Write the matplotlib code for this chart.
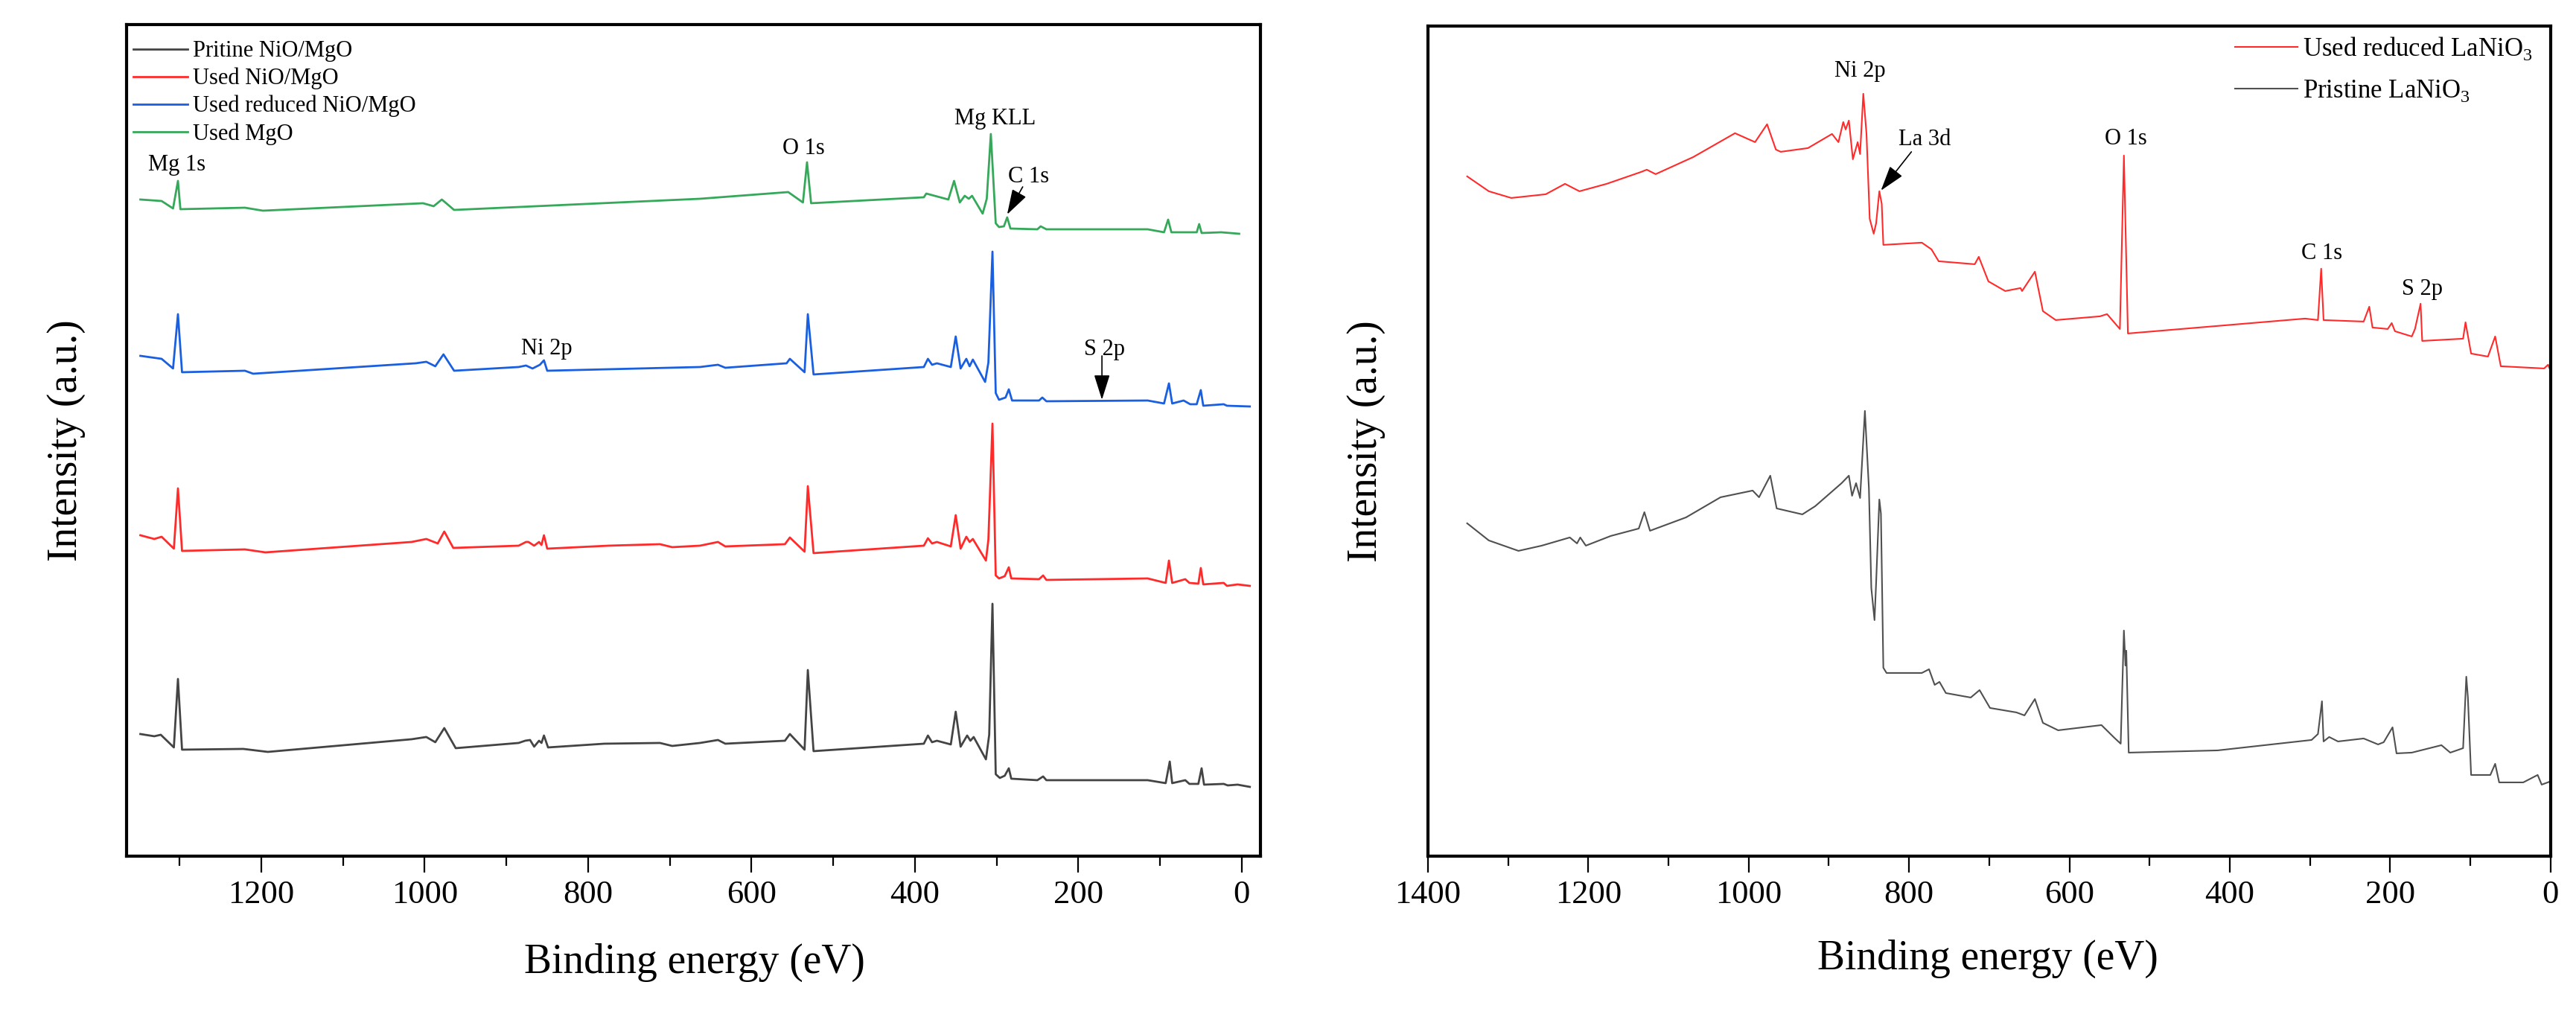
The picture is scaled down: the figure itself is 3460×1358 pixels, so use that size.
import matplotlib
matplotlib.use("Agg")
import matplotlib.pyplot as plt
from matplotlib.ticker import MultipleLocator

plt.rcParams['font.family'] = ['Liberation Serif', 'DejaVu Serif']
plt.rcParams['mathtext.fontset'] = 'custom'
plt.rcParams['mathtext.rm'] = 'Liberation Serif'

# ---------------- Left panel data: (binding energy eV, intensity a.u.) ----------------
used_mgo = [(1348, 882), (1322, 880), (1308, 870), (1302, 907), (1299, 869), (1220, 871), (1198, 867),
            (1002, 877), (989, 873), (979, 882), (964, 868), (663, 883), (555, 892), (537, 878), (532, 932),
            (527, 877), (389, 885), (386, 890), (359, 882), (352, 907), (345, 878), (339, 887), (334, 883),
            (330, 887), (317, 863), (312, 883), (307, 970), (301, 850), (297, 845), (291, 846), (287, 858),
            (283, 843), (250, 842), (246, 846), (239, 842), (115, 842), (95, 838), (90, 855), (86, 838),
            (55, 838), (52, 849), (49, 837), (25, 838), (3, 836)]

used_reduced_nio_mgo = [(1348, 672), (1322, 668), (1308, 655), (1302, 728), (1297, 650), (1220, 652), (1210, 648),
                        (1011, 662), (998, 664), (987, 658), (977, 674), (964, 652), (885, 657), (876, 659),
                        (868, 655), (859, 660), (854, 666), (850, 652), (663, 657), (641, 660), (632, 656),
                        (557, 662), (553, 668), (535, 650), (531, 728), (524, 647), (389, 657), (384, 668),
                        (379, 660), (373, 662), (356, 657), (350, 698), (344, 655), (337, 668), (333, 658),
                        (329, 667), (314, 637), (310, 663), (305, 812), (301, 622), (297, 613), (289, 616),
                        (285, 627), (281, 612), (248, 612), (244, 616), (239, 611), (115, 612), (95, 608),
                        (89, 635), (85, 608), (71, 612), (63, 607), (55, 607), (50, 626), (47, 605), (22, 607),
                        (18, 605), (-10, 604)]

used_nio_mgo = [(1348, 431), (1331, 426), (1322, 429), (1307, 413), (1302, 494), (1297, 410), (1220, 412),
                (1195, 408), (1016, 422), (998, 426), (984, 420), (976, 436), (965, 414), (885, 417), (876, 422),
                (873, 422), (866, 417), (860, 422), (857, 418), (854, 431), (850, 413), (775, 417), (712, 419),
                (697, 415), (663, 417), (641, 422), (632, 416), (559, 419), (553, 428), (535, 409), (531, 497),
                (524, 407), (389, 417), (384, 427), (379, 420), (373, 422), (356, 416), (350, 458), (344, 413),
                (337, 429), (333, 422), (329, 426), (313, 397), (310, 425), (305, 581), (301, 377), (297, 373),
                (290, 376), (285, 388), (282, 373), (248, 372), (243, 377), (239, 371), (115, 373), (93, 367),
                (89, 397), (85, 367), (69, 372), (64, 367), (53, 366), (50, 387), (47, 365), (22, 367), (18, 363),
                (5, 365), (-10, 363)]

pristine_nio_mgo = [(1348, 164), (1331, 161), (1323, 163), (1307, 146), (1302, 238), (1297, 143), (1222, 144),
                    (1192, 140), (1016, 157), (998, 160), (987, 153), (976, 172), (962, 145), (885, 152),
                    (877, 155), (871, 156), (866, 147), (860, 155), (857, 152), (854, 162), (849, 146), (780, 151),
                    (712, 152), (697, 148), (663, 152), (641, 156), (632, 151), (559, 155), (553, 164), (535, 143),
                    (531, 250), (524, 141), (389, 151), (384, 162), (379, 153), (373, 155), (356, 150), (350, 194),
                    (344, 147), (336, 162), (332, 155), (328, 160), (313, 130), (309, 163), (305, 339), (301, 110),
                    (296, 105), (290, 108), (285, 118), (282, 104), (250, 102), (243, 107), (239, 102), (115, 102),
                    (93, 98), (88, 127), (85, 98), (69, 102), (64, 97), (53, 97), (49, 118), (46, 96), (22, 97),
                    (17, 95), (5, 96), (-10, 93)]

left_labels = ['Pritine NiO/MgO', 'Used NiO/MgO', 'Used reduced NiO/MgO', 'Used MgO']
left_series = [pristine_nio_mgo, used_nio_mgo, used_reduced_nio_mgo, used_mgo]
left_colors = ['#444444', '#ff2b2b', '#1a5fe0', '#35a85a']

# ---------------- Right panel data ----------------
used_reduced_lanio3 = [(1351, 913), (1324, 893), (1296, 884), (1253, 889), (1229, 903), (1211, 893), (1177, 903),
                       (1134, 919), (1127, 922), (1116, 916), (1069, 939), (1017, 971), (992, 959), (977, 983),
                       (966, 949), (960, 946), (926, 951), (896, 970), (888, 959), (882, 986), (879, 976),
                       (875, 988), (870, 936), (864, 959), (861, 943), (857, 1024), (853, 970), (849, 856),
                       (844, 836), (841, 850), (837, 893), (834, 876), (832, 821), (784, 824), (772, 815),
                       (763, 799), (718, 795), (713, 805), (701, 772), (680, 759), (661, 763), (659, 759),
                       (643, 785), (633, 732), (617, 720), (562, 725), (553, 728), (537, 708), (532, 941),
                       (527, 702), (306, 722), (290, 720), (286, 789), (283, 720), (233, 718), (226, 738),
                       (222, 710), (203, 708), (198, 716), (194, 705), (173, 698), (169, 708), (162, 742),
                       (160, 692), (109, 695), (106, 717), (99, 675), (78, 671), (69, 698), (62, 658), (8, 655),
                       (3, 660), (0, 652)]

pristine_lanio3 = [(1351, 447), (1324, 424), (1287, 410), (1258, 417), (1223, 428), (1214, 420), (1210, 428),
                   (1203, 417), (1172, 430), (1137, 440), (1130, 462), (1123, 437), (1078, 455), (1035, 482),
                   (995, 491), (987, 482), (973, 511), (965, 467), (933, 459), (917, 470), (884, 501), (875, 511),
                   (871, 484), (866, 501), (861, 481), (855, 598), (850, 494), (847, 360), (843, 317), (841, 367),
                   (837, 479), (835, 460), (832, 253), (828, 246), (784, 246), (775, 251), (768, 230), (762, 234),
                   (754, 219), (723, 213), (712, 223), (699, 199), (666, 193), (656, 189), (643, 211), (633, 179),
                   (614, 169), (560, 176), (544, 159), (536, 151), (532, 303), (530, 256), (529, 276), (526, 139),
                   (415, 142), (298, 156), (290, 164), (285, 208), (283, 154), (276, 160), (265, 154), (233, 158),
                   (215, 150), (208, 153), (197, 173), (192, 138), (173, 139), (136, 149), (125, 139), (109, 145),
                   (105, 241), (103, 213), (99, 109), (75, 109), (69, 124), (64, 99), (34, 99), (16, 109),
                   (11, 96), (1, 100), (0, 95)]

right_labels = [r'Used reduced LaNiO$_\mathrm{3}$', r'Pristine LaNiO$_\mathrm{3}$']
right_series = [used_reduced_lanio3, pristine_lanio3]
right_colors = ['#ff2b2b', '#505050']

left_major_ticks = [1200, 1000, 800, 600, 400, 200, 0]
right_major_ticks = [1400, 1200, 1000, 800, 600, 400, 200, 0]

# ---------------- Figure ----------------
fig = plt.figure(figsize=(34.6, 13.58), dpi=100)
ax1 = fig.add_axes([0.0491, 0.1532, 0.4402, 0.8225])
ax2 = fig.add_axes([0.5543, 0.1532, 0.4358, 0.8211])

TICK_FS = 32
LABEL_FS = 40
ANN_FS = 22

for ax in (ax1, ax2):
    for sp in ax.spines.values():
        sp.set_linewidth(3)
    ax.set_yticks([])
    ax.tick_params(axis='x', which='major', direction='out', length=16, width=1.6,
                   labelsize=TICK_FS, pad=7, top=False)
    ax.tick_params(axis='x', which='minor', direction='out', length=9, width=1.6, top=False)
    ax.xaxis.set_minor_locator(MultipleLocator(100))

# left panel
for data, lab, col in zip(left_series, left_labels, left_colors):
    be = [p[0] for p in data]
    it = [p[1] for p in data]
    ax1.plot(be, it, color=col, lw=2.0, label=lab)
ax1.set_xlim(1365, -23)
ax1.set_ylim(0, 1117)
ax1.set_xticks(left_major_ticks)
ax1.set_xlabel('Binding energy (eV)', fontsize=LABEL_FS)
ax1.set_ylabel('Intensity (a.u.)', fontsize=LABEL_FS)
ax1.xaxis.set_label_coords(0.501, -0.105)
ax1.yaxis.set_label_coords(-0.036, 0.5)
ax1.legend(loc='upper left', bbox_to_anchor=(0.006, 0.981), frameon=False, fontsize=22,
           handlelength=2.4, handletextpad=0.23, labelspacing=0.25, borderpad=0, borderaxespad=0)

ax1.text(1303, 921, 'Mg 1s', ha='center', va='baseline', fontsize=ANN_FS)
ax1.text(536, 943, 'O 1s', ha='center', va='baseline', fontsize=ANN_FS)
ax1.text(302, 983, 'Mg KLL', ha='center', va='baseline', fontsize=ANN_FS)
ax1.text(261, 905, 'C 1s', ha='center', va='baseline', fontsize=ANN_FS)
ax1.text(851, 674, 'Ni 2p', ha='center', va='baseline', fontsize=ANN_FS)
ax1.text(168, 673, 'S 2p', ha='center', va='baseline', fontsize=ANN_FS)
arrow_style = '-|>,head_length=0.7,head_width=0.22'
ax1.annotate('', xy=(287, 862), xytext=(268, 899),
             arrowprops=dict(arrowstyle=arrow_style, color='k', lw=1.2, mutation_scale=30,
                             shrinkA=0, shrinkB=0))
ax1.annotate('', xy=(171, 613), xytext=(171, 672),
             arrowprops=dict(arrowstyle=arrow_style, color='k', lw=1.2, mutation_scale=30,
                             shrinkA=0, shrinkB=0))

# right panel
for data, lab, col in zip(right_series, right_labels, right_colors):
    be = [p[0] for p in data]
    it = [p[1] for p in data]
    ax2.plot(be, it, color=col, lw=1.5, label=lab)
ax2.set_xlim(1400, 0)
ax2.set_ylim(0, 1115)
ax2.set_xticks(right_major_ticks)
ax2.set_xlabel('Binding energy (eV)', fontsize=LABEL_FS)
ax2.set_ylabel('Intensity (a.u.)', fontsize=LABEL_FS)
ax2.xaxis.set_label_coords(0.499, -0.10)
ax2.yaxis.set_label_coords(-0.038, 0.5)
ax2.legend(loc='upper left', bbox_to_anchor=(0.719, 0.989), frameon=False, fontsize=25,
           handlelength=2.42, handletextpad=0.2, labelspacing=0.62, borderpad=0, borderaxespad=0)

ax2.text(861, 1047, 'Ni 2p', ha='center', va='baseline', fontsize=ANN_FS)
ax2.text(780, 955, 'La 3d', ha='center', va='baseline', fontsize=ANN_FS)
ax2.text(530, 956, 'O 1s', ha='center', va='baseline', fontsize=ANN_FS)
ax2.text(285, 802, 'C 1s', ha='center', va='baseline', fontsize=ANN_FS)
ax2.text(160, 754, 'S 2p', ha='center', va='baseline', fontsize=ANN_FS)
ax2.annotate('', xy=(835, 894), xytext=(797, 946),
             arrowprops=dict(arrowstyle=arrow_style, color='k', lw=1.2, mutation_scale=30,
                             shrinkA=0, shrinkB=0))

fig.savefig('out.png', dpi=100)
